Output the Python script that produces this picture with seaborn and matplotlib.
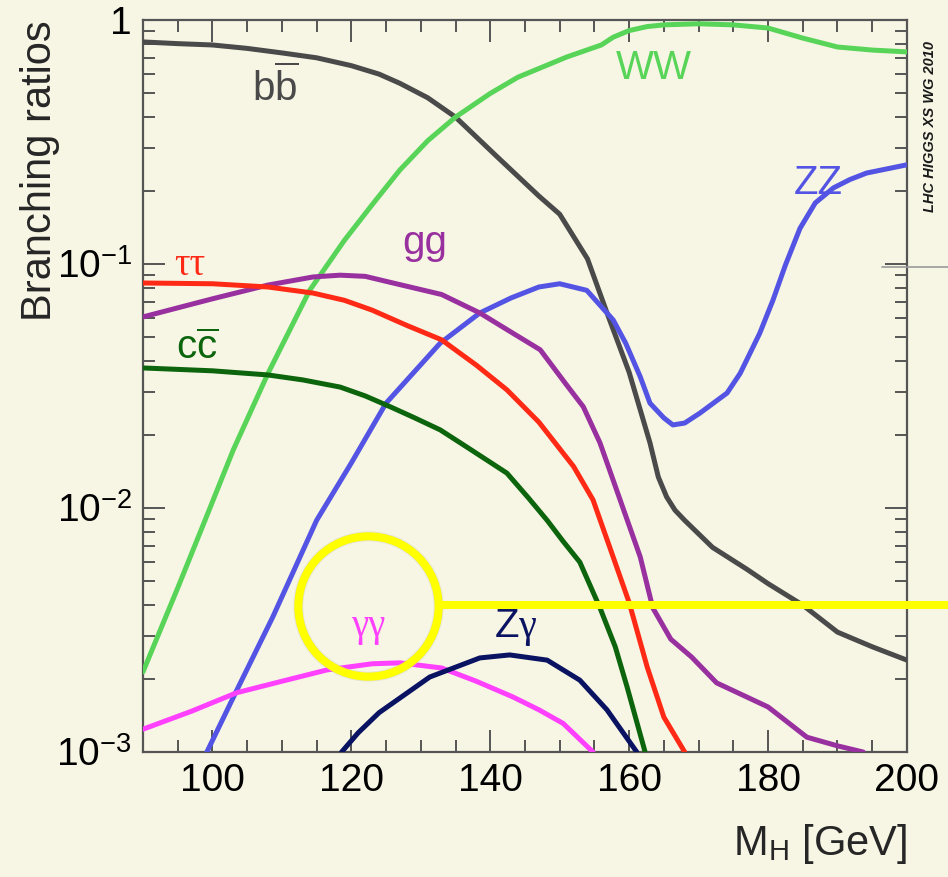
import matplotlib.pyplot as plt
import seaborn as sns
import pandas as pd
import numpy as np
from matplotlib.lines import Line2D
from matplotlib.ticker import MultipleLocator, LogLocator, FuncFormatter, NullFormatter

# Higgs branching ratios (M_H in GeV)
bb_mass = [90, 95, 100, 105, 110, 115, 120, 124, 127, 131, 135, 141, 147, 150, 154, 157, 160, 163, 164.2,
           165.4, 166.6, 168, 172, 177, 180, 185, 190, 195, 200]
bb_br = [0.813, 0.80, 0.79, 0.765, 0.733, 0.70, 0.65, 0.60, 0.55, 0.48, 0.40, 0.275, 0.19, 0.16, 0.105, 0.061,
         0.036, 0.0185, 0.0134, 0.0111, 0.0098, 0.0089, 0.0069, 0.0056, 0.0049, 0.0040, 0.0031, 0.0027, 0.00238]

ww_mass = [90, 95, 99, 103, 108, 114, 119, 123, 127, 131, 135, 140, 144, 151, 156, 157.7, 160, 162.6, 165,
           170, 175, 180, 185, 190, 195, 200]
ww_br = [0.00213, 0.0047, 0.0090, 0.0173, 0.0356, 0.078, 0.125, 0.175, 0.243, 0.32, 0.40, 0.50, 0.583, 0.705,
         0.79, 0.85, 0.905, 0.94, 0.955, 0.965, 0.955, 0.927, 0.843, 0.775, 0.753, 0.74]

zz_mass = [99.2, 103.5, 108.7, 115, 120, 125, 132.8, 138.5, 143, 147, 150, 153.9, 157.7, 159.5, 161.6, 163,
           165, 166.3, 168, 170.2, 174.1, 176, 178.8, 180.7, 182.5, 184.6, 186.8, 189.4, 191.8, 194.2, 200]
zz_br = [0.001, 0.00179, 0.00358, 0.0089, 0.0153, 0.0269, 0.0474, 0.063, 0.0726, 0.0805, 0.083, 0.078, 0.059,
         0.0474, 0.0345, 0.0269, 0.0234, 0.0219, 0.0223, 0.0245, 0.0296, 0.0357, 0.052, 0.071, 0.099, 0.140,
         0.178, 0.205, 0.222, 0.236, 0.255]

gg_mass = [90, 100, 108, 114.5, 118.4, 122, 126, 133, 138.5, 143, 147.2, 150.9, 153.4, 155.8, 158.7, 161.6,
           163.4, 166, 169, 172.6, 176, 180, 185.6, 190, 193.7]
gg_br = [0.0607, 0.072, 0.082, 0.0885, 0.090, 0.089, 0.0836, 0.075, 0.063, 0.0526, 0.0445, 0.0322, 0.026,
         0.0185, 0.0108, 0.0063, 0.0039, 0.0029, 0.00245, 0.00192, 0.00173, 0.00153, 0.00115, 0.00106, 0.001]

tautau_mass = [90, 100, 108, 114.5, 119, 123, 128, 133, 138, 142.4, 147, 152, 154.8, 157.7, 160, 162.6, 165, 168]
tautau_br = [0.0836, 0.083, 0.0805, 0.076, 0.071, 0.0647, 0.056, 0.0489, 0.0385, 0.0305, 0.0225, 0.0148,
             0.0108, 0.0063, 0.0041, 0.00223, 0.00139, 0.001]

cc_mass = [90, 100, 108, 113, 118.4, 122, 125.6, 129, 132.8, 137, 142.4, 145.5, 148.2, 150.5, 152.9, 155.8,
           158, 159.7, 162.3]
cc_br = [0.0375, 0.0365, 0.0351, 0.0335, 0.0313, 0.0288, 0.026, 0.0235, 0.0209, 0.0175, 0.0139, 0.011,
         0.0089, 0.0073, 0.006, 0.0039, 0.0027, 0.00185, 0.001]

gamgam_mass = [90, 97, 103.5, 110, 116.5, 123, 127, 133, 138, 143.3, 147, 150.5, 154.8]
gamgam_br = [0.00124, 0.00147, 0.00175, 0.00195, 0.00217, 0.0023, 0.00232, 0.00221, 0.00195, 0.00168,
             0.00149, 0.00131, 0.001]

zgam_mass = [118.6, 121, 124, 131.3, 138.5, 142.8, 148.2, 152.9, 156.8, 161.1]
zgam_br = [0.001, 0.0012, 0.00145, 0.00203, 0.00243, 0.0025, 0.00238, 0.00197, 0.00149, 0.001]

# label text, label position (mass, BR)
channels = [
    ('bb', bb_mass, bb_br, '#4a4a4a', r'b$\overline{\mathrm{b}}$', 109, 0.53),
    ('WW', ww_mass, ww_br, '#58d458', 'WW', 163.5, 0.635),
    ('ZZ', zz_mass, zz_br, '#5454e4', 'ZZ', 187.2, 0.215),
    ('gg', gg_mass, gg_br, '#99309f', 'gg', 130.6, 0.122),
    ('tautau', tautau_mass, tautau_br, '#ff2a16', 'ττ', 96.8, 0.099),
    ('cc', cc_mass, cc_br, '#0c640c', r'c$\overline{\mathrm{c}}$', 97.8, 0.0453),
    ('gamgam', gamgam_mass, gamgam_br, '#ff40ff', 'γγ', 122.4, 0.00328),
    ('zgam', zgam_mass, zgam_br, '#0a1262', r'Z$\gamma$', 143.6, 0.00325),
]

# highlight circle around the diphoton label
circle_mass, circle_br = 122.4, 0.00396

BG = '#f7f6e4'

sns.set_theme(style='ticks')
plt.rcParams['font.family'] = ['Liberation Sans', 'DejaVu Sans']
plt.rcParams['mathtext.fontset'] = 'custom'
plt.rcParams['mathtext.rm'] = 'Liberation Sans'
plt.rcParams['mathtext.it'] = 'Liberation Serif'
plt.rcParams['mathtext.bf'] = 'Liberation Sans:bold'

fig = plt.figure(figsize=(9.48, 8.77), dpi=100, facecolor=BG)
ax = fig.add_axes([0.1508, 0.1425, 0.8059, 0.8347])
ax.set_facecolor(BG)

for name, mass, br, color, label, lx, ly in channels:
    df = pd.DataFrame({'mass': mass, 'br': br})
    line_ax = sns.lineplot(data=df, x='mass', y='br', color=color, lw=3.6, ax=ax, zorder=3)
    line_ax.lines[-1].set_solid_joinstyle('round')
    serif = name in ('tautau', 'gamgam')
    ax.text(lx, ly, label, color=color, ha='center', va='center',
            fontsize=28 if serif else 29,
            family=['Liberation Serif', 'DejaVu Serif'] if serif else ['Liberation Sans', 'DejaVu Sans'])

ax.set_yscale('log')
ax.set_xlim(90, 200)
ax.set_ylim(1e-3, 1)

ax.xaxis.set_major_locator(MultipleLocator(20))
ax.xaxis.set_minor_locator(MultipleLocator(5))
ax.yaxis.set_major_locator(LogLocator(base=10, numticks=10))
ax.yaxis.set_minor_locator(LogLocator(base=10, subs=np.arange(2, 10), numticks=10))
ax.yaxis.set_minor_formatter(NullFormatter())
ax.yaxis.set_major_formatter(FuncFormatter(
    lambda v, pos: '1' if np.isclose(v, 1) else f'10$^{{{int(round(np.log10(v)))}}}$'))

ax.tick_params(which='both', direction='in', top=True, right=True, color='#555555', width=1.4)
ax.tick_params(which='major', length=16, labelsize=28, pad=8, labelcolor='black')
ax.tick_params(which='minor', length=8.5)
for sp in ax.spines.values():
    sp.set_color('#555555')
    sp.set_linewidth(1.6)

ax.set_xlabel(r'M$_\mathrm{H}$ [GeV]', fontsize=30, loc='right')
ax.set_ylabel('Branching ratios', fontsize=30, loc='top')
ax.xaxis.set_label_coords(1.0, -0.095)
ax.yaxis.set_label_coords(-0.108, 1.0)

# yellow highlight circle with pointer line
ax.plot([circle_mass], [circle_br], marker='o', ms=101, mfc='none', mec='#bdbdb0', mew=7,
        alpha=0.35, clip_on=False, zorder=4)
ax.plot([circle_mass], [circle_br], marker='o', ms=101, mfc='none', mec='#ffff00', mew=5.8,
        clip_on=False, zorder=5)
fig.add_artist(Line2D([440 / 948, 1.0], [1 - 605 / 877] * 2, color='#ffff00', lw=5.8,
                      transform=fig.transFigure, zorder=6))

# grey stub on the right edge
fig.add_artist(Line2D([882 / 948, 1.0], [1 - 267 / 877] * 2, color='#9a9a9a', lw=1.2,
                      transform=fig.transFigure))

fig.text(930 / 948, 1 - 126 / 877, 'LHC HIGGS XS WG 2010', rotation=90, fontsize=10.5,
         fontweight='bold', style='italic', ha='center', va='center', color='#1a1a1a')

fig.savefig('out.png', dpi=100, facecolor=BG)
